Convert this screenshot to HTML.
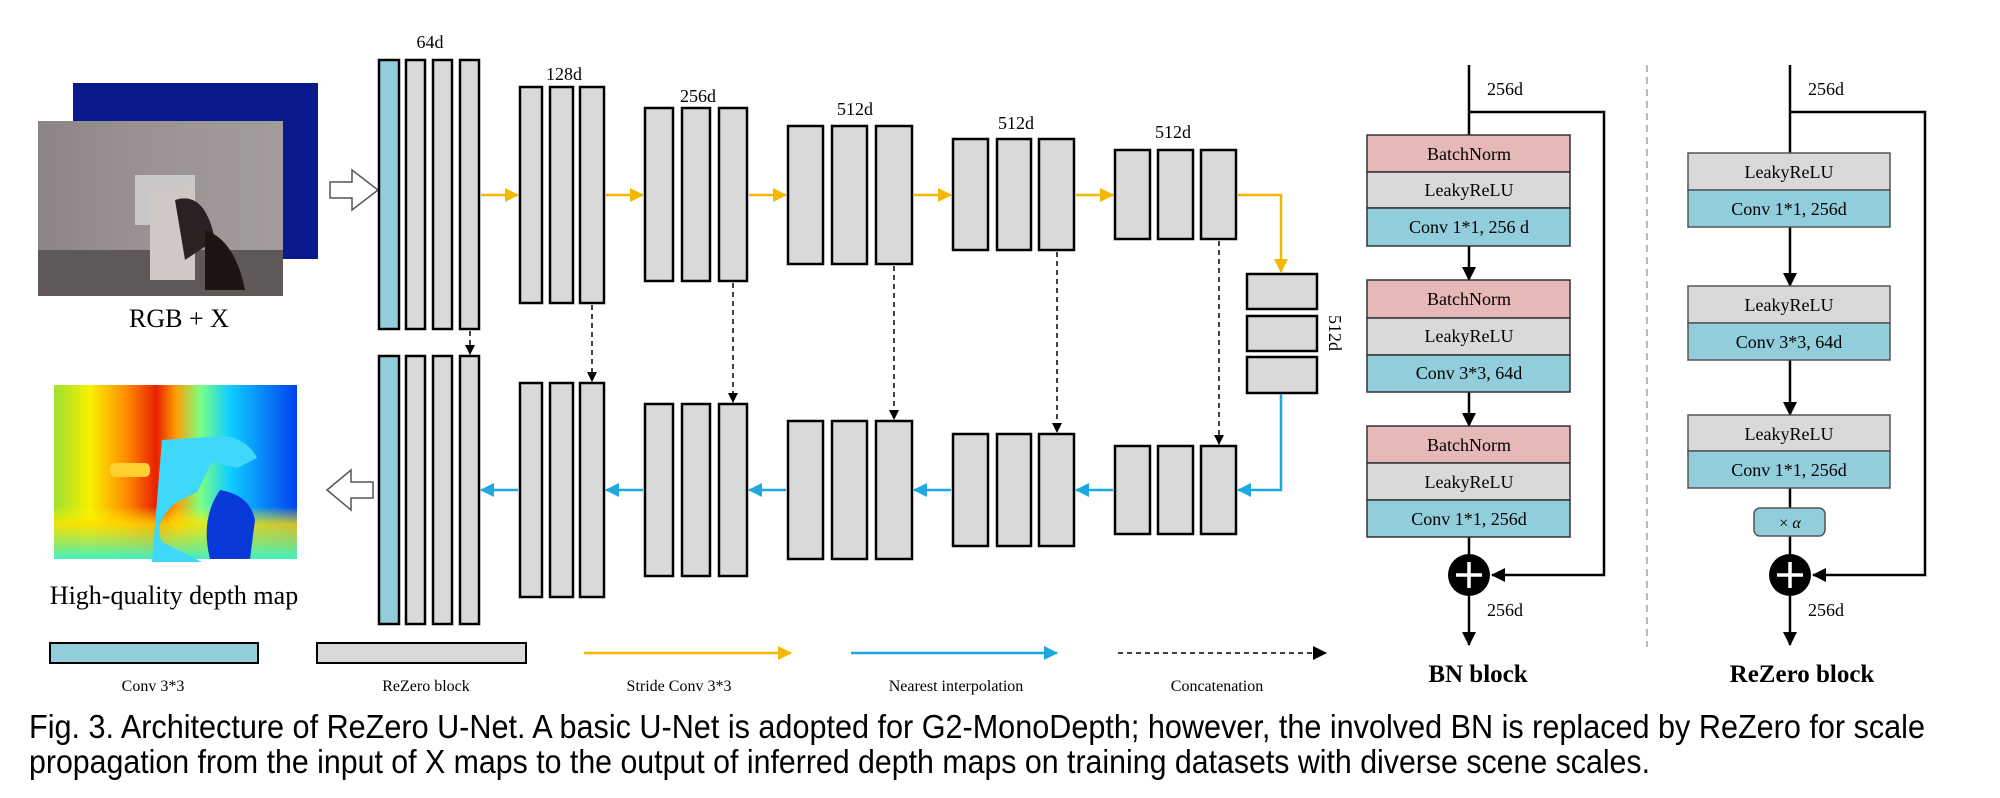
<!DOCTYPE html>
<html><head><meta charset="utf-8"><style>
html,body{margin:0;padding:0;background:#fff;}
svg{display:block;}
text{font-family:"Liberation Serif",serif;fill:#000;}
</style></head><body>
<svg width="2000" height="798" viewBox="0 0 2000 798" xmlns="http://www.w3.org/2000/svg">
<defs>
<marker id="ay" markerWidth="14" markerHeight="14" refX="13" refY="7" orient="auto" markerUnits="userSpaceOnUse"><path d="M0,0 L14,7 L0,14 Z" fill="#f5b800"/></marker>
<marker id="ab" markerWidth="14" markerHeight="14" refX="13" refY="7" orient="auto" markerUnits="userSpaceOnUse"><path d="M0,0 L14,7 L0,14 Z" fill="#1ea8e0"/></marker>
<marker id="ak" markerWidth="10" markerHeight="10" refX="9" refY="5" orient="auto" markerUnits="userSpaceOnUse"><path d="M0,0 L10,5 L0,10 Z" fill="#000"/></marker>
<marker id="ak2" markerWidth="14" markerHeight="14" refX="13" refY="7" orient="auto" markerUnits="userSpaceOnUse"><path d="M0,0 L14,7 L0,14 Z" fill="#000"/></marker>
<linearGradient id="dh" x1="0" x2="1" y1="0" y2="0">
<stop offset="0" stop-color="#9fe030"/><stop offset="0.15" stop-color="#f8f000"/><stop offset="0.3" stop-color="#ff8a00"/><stop offset="0.42" stop-color="#e82000"/><stop offset="0.5" stop-color="#ff9a00"/><stop offset="0.6" stop-color="#80ff80"/><stop offset="0.72" stop-color="#10d0ff"/><stop offset="1" stop-color="#0040f0"/></linearGradient>
<linearGradient id="dv" x1="0" x2="0" y1="0" y2="1"><stop offset="0.7" stop-color="#ffff00" stop-opacity="0"/><stop offset="0.8" stop-color="#ffe000" stop-opacity="0.8"/><stop offset="1" stop-color="#40f0c0" stop-opacity="1"/></linearGradient>
<linearGradient id="ph" x1="0" x2="1"><stop offset="0" stop-color="#8c8585"/><stop offset="0.4" stop-color="#9a9292"/><stop offset="1" stop-color="#a39c9c"/></linearGradient>
</defs>

<!-- input images -->
<rect x="73" y="83" width="245" height="176" fill="#0a1a8c"/>
<rect x="38" y="121" width="245" height="175" fill="url(#ph)"/>
<rect x="38" y="250" width="245" height="46" fill="#5e5858"/>
<rect x="135" y="175" width="60" height="50" fill="#ddd" opacity="0.7"/>
<rect x="150" y="190" width="45" height="90" fill="#cfc8c5"/>
<path d="M175 200 q30 -10 40 40 l-30 20 z" fill="#2a2222"/>
<path d="M205 230 q30 10 40 60 l-40 0 z" fill="#1e1414"/>
<text x="179" y="327" font-size="26" text-anchor="middle">RGB + X</text>

<!-- depth map -->
<rect x="54" y="385" width="243" height="174" fill="url(#dh)"/>
<rect x="54" y="385" width="243" height="174" fill="url(#dv)"/>
<path d="M162 440 l60 -4 q25 2 35 22 l-20 10 l-25 -6 l-15 30 l-20 10 q-25 20 -15 40 l40 20 l-50 0 z" fill="#40d8f8"/>
<rect x="110" y="463" width="40" height="14" rx="5" fill="#ffd030"/>
<path d="M220 490 q30 5 35 30 l-5 39 l-40 0 q-10 -40 10 -69 z" fill="#0838d8"/>
<text x="174" y="604" font-size="26" text-anchor="middle">High-quality depth map</text>

<!-- hollow arrows -->
<path d="M330 182 H352 V170 L378 190 L352 210 V198 H330 Z" fill="#fff" stroke="#555" stroke-width="1.5"/>
<path d="M373 482 H351 V470 L327 490 L351 510 V498 H373 Z" fill="#fff" stroke="#555" stroke-width="1.5"/>

<g stroke="#000" stroke-width="2.5" fill="#d9d9d9">
<rect x="379" y="60" width="20" height="269" fill="#92cddc"/>
<rect x="406" y="60" width="19" height="269"/><rect x="433" y="60" width="19" height="269"/><rect x="460" y="60" width="19" height="269"/>
<rect x="520" y="87" width="22" height="216"/><rect x="550" y="87" width="23" height="216"/><rect x="580" y="87" width="24" height="216"/>
<rect x="645" y="108" width="28" height="173"/><rect x="682" y="108" width="28" height="173"/><rect x="719" y="108" width="28" height="173"/>
<rect x="788" y="126" width="35" height="138"/><rect x="832" y="126" width="35" height="138"/><rect x="876" y="126" width="36" height="138"/>
<rect x="953" y="139" width="35" height="111"/><rect x="997" y="139" width="34" height="111"/><rect x="1039" y="139" width="35" height="111"/>
<rect x="1115" y="150" width="35" height="89"/><rect x="1158" y="150" width="35" height="89"/><rect x="1201" y="150" width="35" height="89"/>
<rect x="1247" y="274" width="70" height="35"/><rect x="1247" y="316" width="70" height="35"/><rect x="1247" y="357" width="70" height="36"/>
<rect x="379" y="356" width="20" height="268" fill="#92cddc"/>
<rect x="406" y="356" width="19" height="268"/><rect x="433" y="356" width="19" height="268"/><rect x="460" y="356" width="19" height="268"/>
<rect x="520" y="383" width="22" height="214"/><rect x="550" y="383" width="23" height="214"/><rect x="580" y="383" width="24" height="214"/>
<rect x="645" y="404" width="28" height="172"/><rect x="682" y="404" width="28" height="172"/><rect x="719" y="404" width="28" height="172"/>
<rect x="788" y="421" width="35" height="138"/><rect x="832" y="421" width="35" height="138"/><rect x="876" y="421" width="36" height="138"/>
<rect x="953" y="434" width="35" height="112"/><rect x="997" y="434" width="34" height="112"/><rect x="1039" y="434" width="35" height="112"/>
<rect x="1115" y="446" width="35" height="88"/><rect x="1158" y="446" width="35" height="88"/><rect x="1201" y="446" width="35" height="88"/>
</g>

<g font-size="18" text-anchor="middle">
<text x="430" y="48">64d</text><text x="564" y="80">128d</text><text x="698" y="102">256d</text>
<text x="855" y="115">512d</text><text x="1016" y="129">512d</text><text x="1173" y="138">512d</text>
<text transform="translate(1329,333) rotate(90)">512d</text>
</g>

<g stroke="#f5b800" stroke-width="2.5" fill="none" marker-end="url(#ay)">
<line x1="481" y1="195" x2="518" y2="195"/><line x1="606" y1="195" x2="643" y2="195"/>
<line x1="749" y1="195" x2="786" y2="195"/><line x1="914" y1="195" x2="951" y2="195"/>
<line x1="1076" y1="195" x2="1113" y2="195"/>
<polyline points="1238,195 1281,195 1281,272"/>
</g>
<g stroke="#1ea8e0" stroke-width="2.5" fill="none" marker-end="url(#ab)">
<polyline points="1281,394 1281,490 1238,490"/>
<line x1="1113" y1="490" x2="1076" y2="490"/><line x1="951" y1="490" x2="914" y2="490"/>
<line x1="786" y1="490" x2="749" y2="490"/><line x1="643" y1="490" x2="606" y2="490"/>
<line x1="518" y1="490" x2="481" y2="490"/>
</g>
<g stroke="#000" stroke-width="1.5" stroke-dasharray="5,4" marker-end="url(#ak)">
<line x1="470" y1="331" x2="470" y2="354"/><line x1="592" y1="305" x2="592" y2="381"/>
<line x1="733" y1="283" x2="733" y2="402"/><line x1="894" y1="266" x2="894" y2="419"/>
<line x1="1057" y1="252" x2="1057" y2="432"/><line x1="1219" y1="241" x2="1219" y2="444"/>
</g>

<rect x="50" y="643" width="208" height="20" fill="#92cddc" stroke="#000" stroke-width="2"/>
<rect x="317" y="643" width="209" height="20" fill="#d9d9d9" stroke="#000" stroke-width="2"/>
<line x1="584" y1="653" x2="791" y2="653" stroke="#f5b800" stroke-width="2.5" marker-end="url(#ay)"/>
<line x1="851" y1="653" x2="1057" y2="653" stroke="#1ea8e0" stroke-width="2.5" marker-end="url(#ab)"/>
<line x1="1118" y1="653" x2="1326" y2="653" stroke="#000" stroke-width="1.5" stroke-dasharray="5,4" marker-end="url(#ak2)"/>
<g font-size="16" text-anchor="middle">
<text x="153" y="691">Conv 3*3</text><text x="426" y="691">ReZero block</text>
<text x="679" y="691">Stride Conv 3*3</text><text x="956" y="691">Nearest interpolation</text>
<text x="1217" y="691">Concatenation</text>
</g>

<g stroke="#000" stroke-width="2.5" fill="none">
<line x1="1469" y1="65" x2="1469" y2="135"/>
<polyline points="1469,112 1604,112 1604,575 1492,575" marker-end="url(#ak2)"/>
<line x1="1469" y1="246" x2="1469" y2="280" marker-end="url(#ak2)"/>
<line x1="1469" y1="392" x2="1469" y2="426" marker-end="url(#ak2)"/>
<line x1="1469" y1="537" x2="1469" y2="555"/>
<line x1="1469" y1="596" x2="1469" y2="645" marker-end="url(#ak2)"/>
</g>
<g stroke="#333" stroke-width="1.5">
<rect x="1367" y="135" width="203" height="37" fill="#e6b8b7"/><rect x="1367" y="172" width="203" height="36" fill="#d9d9d9"/><rect x="1367" y="208" width="203" height="38" fill="#92cddc"/>
<rect x="1367" y="280" width="203" height="38" fill="#e6b8b7"/><rect x="1367" y="318" width="203" height="37" fill="#d9d9d9"/><rect x="1367" y="355" width="203" height="37" fill="#92cddc"/>
<rect x="1367" y="426" width="203" height="37" fill="#e6b8b7"/><rect x="1367" y="463" width="203" height="37" fill="#d9d9d9"/><rect x="1367" y="500" width="203" height="37" fill="#92cddc"/>
</g>
<circle cx="1469" cy="575" r="21" fill="#000"/>
<path d="M1469 562 V588 M1456 575 H1482" stroke="#fff" stroke-width="3.5"/>
<g font-size="18" text-anchor="middle">
<text x="1469" y="160">BatchNorm</text><text x="1469" y="196">LeakyReLU</text><text x="1469" y="233">Conv 1*1, 256 d</text>
<text x="1469" y="305">BatchNorm</text><text x="1469" y="342">LeakyReLU</text><text x="1469" y="379">Conv 3*3, 64d</text>
<text x="1469" y="451">BatchNorm</text><text x="1469" y="488">LeakyReLU</text><text x="1469" y="525">Conv 1*1, 256d</text>
<text x="1505" y="95">256d</text><text x="1505" y="616">256d</text>
<text x="1826" y="95">256d</text><text x="1826" y="616">256d</text>
</g>
<text x="1478" y="682" font-size="25" font-weight="bold" text-anchor="middle">BN block</text>

<line x1="1647" y1="65" x2="1647" y2="647" stroke="#bbb" stroke-width="2" stroke-dasharray="7,5"/>

<g stroke="#000" stroke-width="2.5" fill="none">
<line x1="1790" y1="65" x2="1790" y2="153"/>
<polyline points="1790,112 1925,112 1925,575 1813,575" marker-end="url(#ak2)"/>
<line x1="1790" y1="227" x2="1790" y2="286" marker-end="url(#ak2)"/>
<line x1="1790" y1="360" x2="1790" y2="415" marker-end="url(#ak2)"/>
<line x1="1790" y1="488" x2="1790" y2="508"/>
<line x1="1790" y1="536" x2="1790" y2="555"/>
<line x1="1790" y1="596" x2="1790" y2="645" marker-end="url(#ak2)"/>
</g>
<g stroke="#555" stroke-width="1.5">
<rect x="1688" y="153" width="202" height="37" fill="#d9d9d9"/><rect x="1688" y="190" width="202" height="37" fill="#92cddc"/>
<rect x="1688" y="286" width="202" height="37" fill="#d9d9d9"/><rect x="1688" y="323" width="202" height="37" fill="#92cddc"/>
<rect x="1688" y="415" width="202" height="36" fill="#d9d9d9"/><rect x="1688" y="451" width="202" height="37" fill="#92cddc"/>
<rect x="1754" y="508" width="71" height="28" rx="6" fill="#92cddc"/>
</g>
<circle cx="1790" cy="575" r="21" fill="#000"/>
<path d="M1790 562 V588 M1777 575 H1803" stroke="#fff" stroke-width="3.5"/>
<g font-size="18" text-anchor="middle">
<text x="1789" y="178">LeakyReLU</text><text x="1789" y="215">Conv 1*1, 256d</text>
<text x="1789" y="311">LeakyReLU</text><text x="1789" y="348">Conv 3*3, 64d</text>
<text x="1789" y="440">LeakyReLU</text><text x="1789" y="476">Conv 1*1, 256d</text>
<text x="1790" y="528" font-size="16">× <tspan font-style="italic">α</tspan></text>
</g>
<text x="1802" y="682" font-size="25" font-weight="bold" text-anchor="middle">ReZero block</text>

<text x="29" y="738" font-size="33" style="font-family:'Liberation Sans',sans-serif" textLength="1896" lengthAdjust="spacingAndGlyphs">Fig. 3. Architecture of ReZero U-Net. A basic U-Net is adopted for G2-MonoDepth; however, the involved BN is replaced by ReZero for scale</text>
<text x="29" y="773" font-size="33" style="font-family:'Liberation Sans',sans-serif" textLength="1621" lengthAdjust="spacingAndGlyphs">propagation from the input of X maps to the output of inferred depth maps on training datasets with diverse scene scales.</text>
</svg>
</body></html>
